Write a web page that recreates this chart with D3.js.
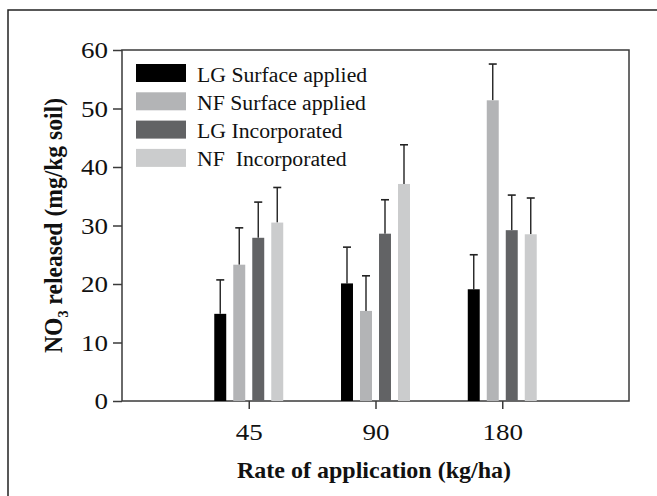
<!DOCTYPE html>
<html>
<head>
<meta charset="utf-8">
<script src="https://cdn.jsdelivr.net/npm/d3@7"></script>
<style>
  body { margin: 0; background: #fff; }
  svg { display: block; font-family: "Liberation Serif", "DejaVu Serif", serif; }
</style>
</head>
<body>
<svg id="chart" width="657" height="496"></svg>
<script>
'use strict';

// data
const rates = ['45', '90', '180'];
const seriesNames = ['LG Surface applied', 'NF Surface applied', 'LG Incorporated', 'NF\u00a0 Incorporated'];
const seriesColors = ['#000000', '#b3b4b6', '#626365', '#cbcccd'];
const lgSurface = [14.9, 20.1, 19.1];
const nfSurface = [23.3, 15.4, 51.4];
const lgIncorp = [27.9, 28.6, 29.2];
const nfIncorp = [30.5, 37.1, 28.5];
const lgSurfaceErr = [5.8, 6.2, 5.9];
const nfSurfaceErr = [6.3, 6.0, 6.2];
const lgIncorpErr = [6.1, 5.8, 6.0];
const nfIncorpErr = [6.0, 6.7, 6.2];
const yTicks = [0, 10, 20, 30, 40, 50, 60];

const values = [lgSurface, nfSurface, lgIncorp, nfIncorp];
const errors = [lgSurfaceErr, nfSurfaceErr, lgIncorpErr, nfIncorpErr];

const svg = d3.select('#chart');
const plotL = 122, plotR = 629, plotT = 50, plotB = 401;
const axisColor = '#3a3a3a';

// the original font (Garamond) is wider per size than Times, so stretch a bit
const stretch = function (sel, k) {
  sel.each(function () {
    const w = this.getComputedTextLength();
    d3.select(this).attr('textLength', w * k).attr('lengthAdjust', 'spacingAndGlyphs');
  });
};

// outer frame (runs off the right and bottom of the picture)
svg.append('rect')
  .attr('x', 8).attr('y', 10)
  .attr('width', 700).attr('height', 600)
  .style('fill', 'none').style('stroke', '#222').style('stroke-width', 1.5);

const yScale = d3.scaleLinear().domain([0, 60]).range([plotB, plotT]);
const xScale = d3.scalePoint().domain(rates).range([plotL, plotR]).padding(1);
const inner = d3.scaleBand().domain(d3.range(4)).range([-38, 38])
  .paddingInner(0.37).paddingOuter(0.185);

// plot box
svg.append('rect')
  .attr('x', plotL).attr('y', plotT)
  .attr('width', plotR - plotL).attr('height', plotB - plotT)
  .style('fill', 'none').style('stroke', axisColor).style('stroke-width', 1.5);

// bars + error bars
values.forEach((vals, s) => {
  const g = svg.append('g');
  rates.forEach((r, i) => {
    const x = xScale(r) + inner(s);
    const cx = x + inner.bandwidth() / 2;
    const yTop = yScale(vals[i]);
    const yErr = yScale(vals[i] + errors[s][i]);
    g.append('line')
      .attr('x1', cx).attr('x2', cx).attr('y1', yTop).attr('y2', yErr)
      .style('stroke', '#222').style('stroke-width', 1.4);
    g.append('line')
      .attr('x1', cx - 4).attr('x2', cx + 4).attr('y1', yErr).attr('y2', yErr)
      .style('stroke', '#222').style('stroke-width', 1.6);
    g.append('rect')
      .attr('x', x).attr('y', yTop)
      .attr('width', inner.bandwidth()).attr('height', yScale(0) - yTop)
      .style('fill', seriesColors[s]);
  });
});

// Y axis
const yAxis = svg.append('g')
  .attr('transform', `translate(${plotL},0)`)
  .call(d3.axisLeft(yScale).tickValues(yTicks).tickSize(9).tickPadding(5));
yAxis.select('.domain').remove();
yAxis.selectAll('line').style('stroke', axisColor).style('stroke-width', 1.5);
yAxis.selectAll('text')
  .style('font-family', '"Liberation Serif", serif')
  .style('font-size', '22.5px').style('fill', '#111')
  .attr('dy', '0.34em')
  .call(stretch, 1.2);

// X axis
const xAxis = svg.append('g')
  .attr('transform', `translate(0,${plotB})`)
  .call(d3.axisBottom(xScale).tickSize(8).tickPadding(12));
xAxis.select('.domain').remove();
xAxis.selectAll('line').style('stroke', axisColor).style('stroke-width', 1.5);
xAxis.selectAll('text')
  .style('font-family', '"Liberation Serif", serif')
  .style('font-size', '22.5px').style('fill', '#111')
  .attr('y', 39).attr('dy', 0)
  .call(stretch, 1.2);

// axis titles
svg.append('text')
  .attr('x', 374).attr('y', 478)
  .attr('text-anchor', 'middle')
  .style('font-size', '24px').style('font-weight', 'bold').style('fill', '#111')
  .text('Rate of application (kg/ha)');

const yTitle = svg.append('text')
  .attr('transform', `translate(62,${(plotT + plotB) / 2}) rotate(-90)`)
  .attr('text-anchor', 'middle')
  .style('font-size', '25px').style('font-weight', 'bold').style('fill', '#111');
yTitle.append('tspan').text('NO');
yTitle.append('tspan').attr('dy', 6).style('font-size', '15px').text('3');
yTitle.append('tspan').attr('dy', -6).text(' released (mg/kg soil)');
yTitle.attr('textLength', 255).attr('lengthAdjust', 'spacingAndGlyphs');

// key
const key = svg.append('g');
seriesNames.forEach((name, s) => {
  const y = 64 + s * 28.3;
  key.append('rect')
    .attr('x', 136).attr('y', y).attr('width', 50).attr('height', 18)
    .style('fill', seriesColors[s]);
  key.append('text')
    .attr('x', 197).attr('y', y + 17.5)
    .style('font-size', '20.5px').style('fill', '#111')
    .text(name)
    .call(stretch, 1.06);
});
</script>
</body>
</html>
